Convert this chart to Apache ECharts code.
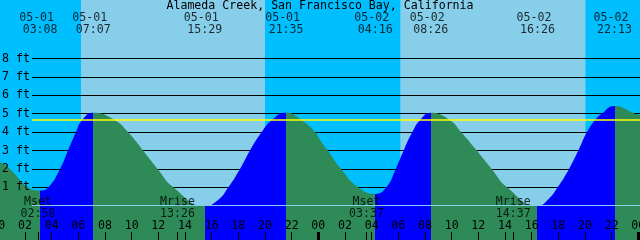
<!DOCTYPE html>
<html>
<head>
<meta charset="utf-8">
<style>
  html, body { margin: 0; padding: 0; background: #fff; }
  #chart { width: 640px; height: 240px; }
</style>
<script src="https://cdn.jsdelivr.net/npm/echarts@6/dist/echarts.min.js"></script>
</head>
<body>
<div id="chart"></div>
<script>
const chartTitle = 'Alameda Creek, San Francisco Bay, California'

// high / low tides
const extremeDays = [1, 1, 1, 1, 2, 2, 2, 2]
const extremeTimes = ['03:08', '07:07', '15:29', '21:35', '04:16', '08:26', '16:26', '22:13']
const extremeKinds = ['L', 'H', 'L', 'H', 'L', 'H', 'L', 'H']

// tide curve (hours since 05-01 00:00, feet)
const curveHours = [0, 0.125, 0.875, 2.225, 3.133, 3.75, 4.625, 5.225, 5.825, 6.275, 7.117,
  8.75, 9.725, 10.85, 11.95, 13.125, 15.483, 16.48, 17.25, 18.125, 18.875, 19.75, 20.5, 21.583,
  22.75, 23.75, 24.125, 24.7, 25.7, 27.0, 28.267, 29.1, 29.8, 30.4, 31.05, 31.625, 32.433,
  33.875, 34.7, 35.875, 37.0, 38.15, 40.433, 41.2, 41.95, 42.8, 43.5, 44.15, 44.75,
  45.25, 46.217, 47.75, 48.125, 48.25]
const curveFeet = [2.43, 2.37, 2.0, 1.0, 0.82, 1.0, 2.0, 3.0, 4.0, 4.65, 5.05,
  4.65, 4.0, 3.0, 2.0, 1.0, -0.02, 0.31, 1.0, 2.0, 3.0, 4.0, 4.65, 5.05,
  4.65, 4.0, 3.57, 3.0, 2.0, 1.0, 0.64, 1.0, 2.0, 3.0, 4.0, 4.65, 5.05,
  4.65, 4.0, 3.0, 2.0, 1.0, -0.02, 0.31, 1.0, 2.0, 3.0, 4.0, 4.65,
  5.0, 5.42, 5.0, 4.93, 4.9]

// sun
const sunDays = [1, 2]
const sunrise = ['06:12', '06:11']
const sunset = ['20:00', '20:01']

// moon
const moonDays = [1, 1, 2, 2]
const moonNames = ['Mset', 'Mrise', 'Mset', 'Mrise']
const moonTimes = ['02:58', '13:26', '03:37', '14:37']

const feetLabels = [1, 2, 3, 4, 5, 6, 7, 8]
const markLevel = 4.65
const dayStarts = [0, 24, 48]

const X_MAX = 48.25
const Y_MIN = -1.864
const Y_MAX = 11.18
const H = 240
const pxPerFt = H / (Y_MAX - Y_MIN)

const NIGHT = '#00BFFF'
const DAY = '#87CEEB'
const RISE = '#0000FF'
const FALL = '#2E8B57'
const FONT = 'DejaVu Sans Mono'
const FS = 11.6

const toHours = (day, t) => {
  const [hh, mm] = t.split(':').map(Number)
  return (day - 1) * 24 + hh + mm / 60
}

const extremeHours = extremeTimes.map((t, i) => toHours(extremeDays[i], t))
const moonHours = moonTimes.map((t, i) => toHours(moonDays[i], t))

const hourLabels = []
for (let h = 0; h <= 48; h += 2) hourLabels.push(h)
const tickValues = hourLabels.concat(moonHours).sort((a, b) => a - b)

// day / night bands
const sunEdges = [0]
sunDays.forEach((d, i) => {
  sunEdges.push(toHours(d, sunrise[i]), toHours(d, sunset[i]))
})
sunEdges.push(X_MAX)
const skyBands = []
for (let i = 0; i < sunEdges.length - 1; i++) {
  skyBands.push([
    { xAxis: sunEdges[i], itemStyle: { color: i % 2 === 0 ? NIGHT : DAY } },
    { xAxis: sunEdges[i + 1] }
  ])
}

// rising = blue, falling = green
const pieces = []
let segStart = 0
extremeHours.forEach((h, i) => {
  pieces.push({ gte: segStart, lt: h, color: extremeKinds[i] === 'L' ? FALL : RISE })
  segStart = h
})
pieces.push({
  gte: segStart, lte: X_MAX,
  color: extremeKinds[extremeKinds.length - 1] === 'H' ? FALL : RISE
})

const labelText = { fontFamily: FONT, fontSize: FS, color: '#000', lineHeight: 12 }

const chart = echarts.init(document.getElementById('chart'))

chart.setOption({
  animation: false,
  title: {
    text: chartTitle,
    left: 'center',
    top: 0,
    padding: 0,
    z: 10,
    textStyle: { fontFamily: FONT, fontSize: FS, fontWeight: 'normal', color: '#000' }
  },
  grid: [
    { left: -1.667, right: -1.667, top: 0, bottom: 0, outerBoundsMode: 'none', containLabel: false },
    {
      left: 32, right: 0, top: (Y_MAX - 8) * pxPerFt, bottom: (1 - Y_MIN) * pxPerFt,
      outerBoundsMode: 'none', containLabel: false
    },
    { left: 32, right: 0, top: 0, bottom: 0, outerBoundsMode: 'none', containLabel: false }
  ],
  xAxis: [
    {
      gridIndex: 0, type: 'value', min: 0, max: X_MAX, interval: 2, z: 4,
      axisLine: { show: false, onZero: false },
      splitLine: { show: false },
      axisTick: {
        inside: true, length: 8, customValues: tickValues,
        lineStyle: { color: '#000', width: 1 }
      },
      axisLabel: {
        inside: true, margin: 8, customValues: hourLabels,
        fontFamily: FONT, fontSize: FS, color: '#000',
        formatter: v => String(v % 24).padStart(2, '0')
      }
    },
    { gridIndex: 1, type: 'value', min: 0, max: 1, show: false },
    { gridIndex: 2, type: 'value', min: 0, max: 1, show: false }
  ],
  yAxis: [
    { gridIndex: 0, type: 'value', min: Y_MIN, max: Y_MAX, show: false },
    {
      gridIndex: 1, type: 'value', min: 1, max: 8, interval: 1, z: 1,
      axisLine: { show: false }, axisTick: { show: false }, axisLabel: { show: false },
      splitLine: { show: true, lineStyle: { color: '#000', width: 1 } }
    },
    {
      gridIndex: 2, type: 'value', min: Y_MIN, max: Y_MAX, z: 6,
      axisLine: { show: false }, axisTick: { show: false }, splitLine: { show: false },
      axisLabel: {
        customValues: feetLabels, align: 'left', margin: 30,
        fontFamily: FONT, fontSize: FS, color: '#000',
        formatter: v => v + ' ft'
      }
    }
  ],
  visualMap: {
    type: 'piecewise', show: false, dimension: 0, seriesIndex: 1, pieces
  },
  series: [
    {
      type: 'line', xAxisIndex: 0, yAxisIndex: 0, data: [], z: 0, silent: true,
      markArea: { silent: true, z: 0, data: skyBands }
    },
    {
      type: 'line', xAxisIndex: 0, yAxisIndex: 0, z: 2, silent: true,
      smooth: 0.5, showSymbol: false,
      lineStyle: { width: 0, opacity: 0 },
      areaStyle: { opacity: 1, origin: 'start' },
      data: curveHours.map((h, i) => [h, curveFeet[i]])
    },
    {
      type: 'line', xAxisIndex: 2, yAxisIndex: 2, data: [], z: 3, silent: true,
      markLine: {
        silent: true, symbol: 'none', label: { show: false },
        data: [
          { yAxis: markLevel, lineStyle: { color: '#FFFF00', width: 1.5, type: 'solid' } },
          { yAxis: 0, lineStyle: { color: '#87CEEB', width: 1, type: 'solid' } }
        ]
      }
    },
    {
      type: 'line', xAxisIndex: 0, yAxisIndex: 0, data: [], z: 4, silent: true,
      markLine: {
        silent: true, symbol: 'none', label: { show: false },
        lineStyle: { color: '#000', width: 3, type: 'solid' },
        data: dayStarts.map(h => [{ coord: [h, Y_MIN] }, { coord: [h, Y_MIN + 8 / pxPerFt] }])
      }
    },
    {
      type: 'scatter', xAxisIndex: 0, yAxisIndex: 0, z: 5, silent: true, clip: false,
      symbolSize: 1, itemStyle: { color: 'transparent' },
      label: {
        show: true, position: 'inside', offset: [0, 23.5], ...labelText,
        formatter: p => p.name
      },
      data: extremeHours.map((h, i) => ({
        value: [h, Y_MAX],
        name: '05-0' + extremeDays[i] + ' \n' + extremeTimes[i]
      }))
    },
    {
      type: 'scatter', xAxisIndex: 0, yAxisIndex: 0, z: 5, silent: true, clip: false,
      symbolSize: 1, itemStyle: { color: 'transparent' },
      label: {
        show: true, position: 'inside', offset: [0, -32], ...labelText,
        formatter: p => p.name
      },
      data: moonHours.map((h, i) => ({
        value: [h, Y_MIN],
        name: moonNames[i] + '\n' + moonTimes[i]
      }))
    }
  ]
})
</script>
</body>
</html>
